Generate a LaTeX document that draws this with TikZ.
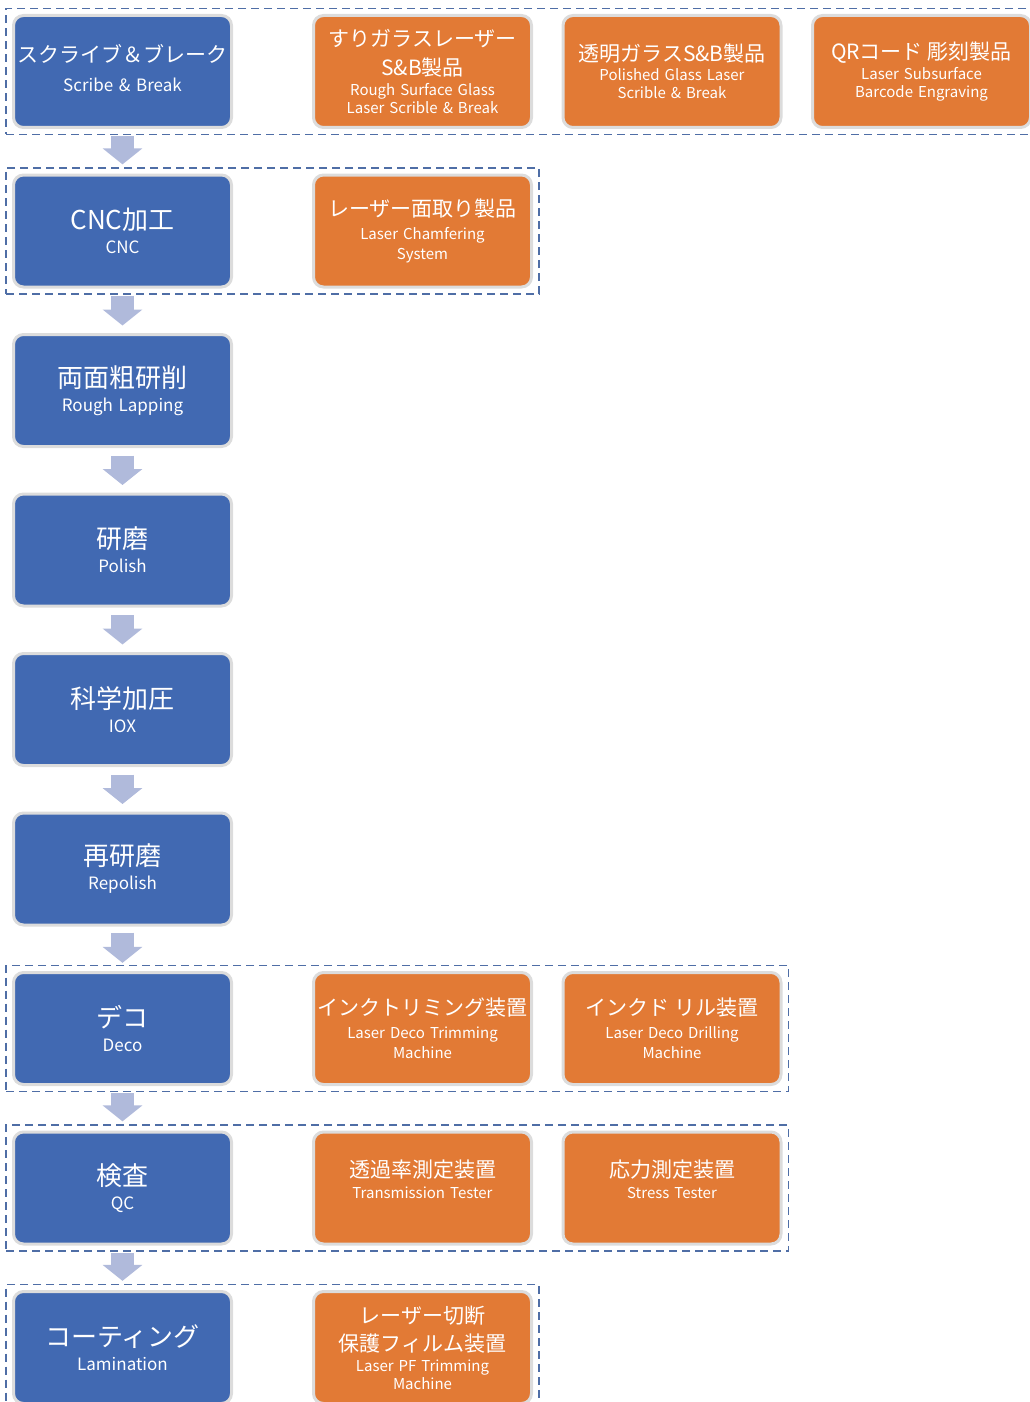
\documentclass[tikz,border=0pt]{standalone}
\usepackage{fontspec}
\setmainfont{Noto Sans CJK JP}
\usetikzlibrary{arrows.meta,fit}
\definecolor{stepblue}{HTML}{4169B2}
\definecolor{toolorange}{HTML}{E27A35}
\definecolor{rimgray}{HTML}{DCDCDC}
\definecolor{flowblue}{HTML}{B0BADB}
\definecolor{groupline}{HTML}{4F6EA6}
\lineskiplimit=-100pt
\newcommand\jpbig[1]{{\fontsize{26}{26}\selectfont #1}}
\newcommand\jpmid[1]{{\fontsize{21}{21}\selectfont #1}}

\begin{document}
\begin{tikzpicture}[x=1pt,y=-1pt,
  box/.style={rounded corners=10pt, draw=rimgray, line width=3pt, minimum width=218pt,
    minimum height=112pt, text width=212pt, align=center, text=white, inner sep=2pt},
  stepbox/.style={box, fill=stepblue, font=\fontsize{17}{24}\selectfont},
  toolbox/.style={box, fill=toolorange, font=\fontsize{15}{18}\selectfont},
  group/.style={draw=groupline, line width=1.3pt, dash pattern=on 8pt off 5pt,
    inner xsep=6pt, inner ysep=5.5pt},
  flow/.style={draw=flowblue, line width=23pt, -{Triangle[length=16pt,width=39pt]},
    shorten <=1pt, shorten >=3pt}]
  \useasboundingbox (0,0) rectangle (1029,1402);

  \node[stepbox] (s1) at (122.5,71.5) {\jpmid{スクライブ＆ブレーク}\\[5pt]Scribe \& Break\\[-18pt]\mbox{}};
  \node[toolbox] (o1a) at (422.5,71.5) {\jpmid{すりガラスレーザー}\\[9pt]\jpmid{S\&B製品}\\[1.5pt]Rough Surface Glass\\Laser Scrible \& Break};
  \node[toolbox] (o1b) at (672,71.5) {\jpmid{透明ガラスS\&B製品}\\[1.5pt]Polished Glass Laser\\Scrible \& Break};
  \node[toolbox] (o1c) at (921.5,71.5) {\jpmid{QRコード 彫刻製品}\\[1.5pt]Laser Subsurface\\Barcode Engraving};
  \node[group, fit=(s1)(o1a)(o1b)(o1c)] (g1) {};

  \node[stepbox] (s2) at (122.5,231) {\jpbig{CNC加工}\\CNC};
  \node[toolbox] (o2) at (422.5,231) {\jpmid{レーザー面取り製品}\\[4.5pt]Laser Chamfering\\[2pt]System};
  \node[group, fit=(s2)(o2)] (g2) {};

  \node[stepbox] (s3) at (122.5,390.5) {\jpbig{両面粗研削}\\Rough Lapping};
  \node[stepbox] (s4) at (122.5,550) {\jpbig{研磨}\\Polish};
  \node[stepbox] (s5) at (122.5,709.5) {\jpbig{科学加圧}\\IOX};
  \node[stepbox] (s6) at (122.5,869) {\jpbig{再研磨}\\Repolish};

  \node[stepbox] (s7) at (122.5,1028.5) {\jpbig{デコ}\\Deco};
  \node[toolbox] (o7a) at (422.5,1028.5) {\jpmid{インクトリミング装置}\\[5.5pt]Laser Deco Trimming\\[2pt]Machine};
  \node[toolbox] (o7b) at (672,1028.5) {\jpmid{インクド リル装置}\\[5.5pt]Laser Deco Drilling\\[2pt]Machine};
  \node[group, fit=(s7)(o7a)(o7b)] (g7) {};

  \node[stepbox] (s8) at (122.5,1188) {\jpbig{検査}\\QC};
  \node[toolbox] (o8a) at (422.5,1188) {\jpmid{透過率測定装置}\\[3.5pt]Transmission Tester\\\mbox{}};
  \node[toolbox] (o8b) at (672,1188) {\jpmid{応力測定装置}\\[3.5pt]Stress Tester\\\mbox{}};
  \node[group, fit=(s8)(o8a)(o8b)] (g8) {};

  \node[stepbox] (s9) at (122.5,1347.5) {\jpbig{コーティング}\\Lamination};
  \node[toolbox] (o9) at (422.5,1347.5) {\jpmid{レーザー切断}\\[8pt]\jpmid{保護フィルム装置}\\[1.5pt]Laser PF Trimming\\Machine};
  \node[group, fit=(s9)(o9)] (g9) {};

  \draw[flow] (g1.south -| s1) -- (g2.north -| s2);
  \draw[flow, shorten >=7.5pt] (g2.south -| s2) -- (s3.north);
  \draw[flow, shorten <=7.5pt, shorten >=7.5pt] (s3.south) -- (s4.north);
  \draw[flow, shorten <=7.5pt, shorten >=7.5pt] (s4.south) -- (s5.north);
  \draw[flow, shorten <=7.5pt, shorten >=7.5pt] (s5.south) -- (s6.north);
  \draw[flow, shorten <=6pt, shorten >=2pt] (s6.south) -- (g7.north -| s7);
  \draw[flow] (g7.south -| s7) -- (g8.north -| s8);
  \draw[flow] (g8.south -| s8) -- (g9.north -| s9);
\end{tikzpicture}
\end{document}
